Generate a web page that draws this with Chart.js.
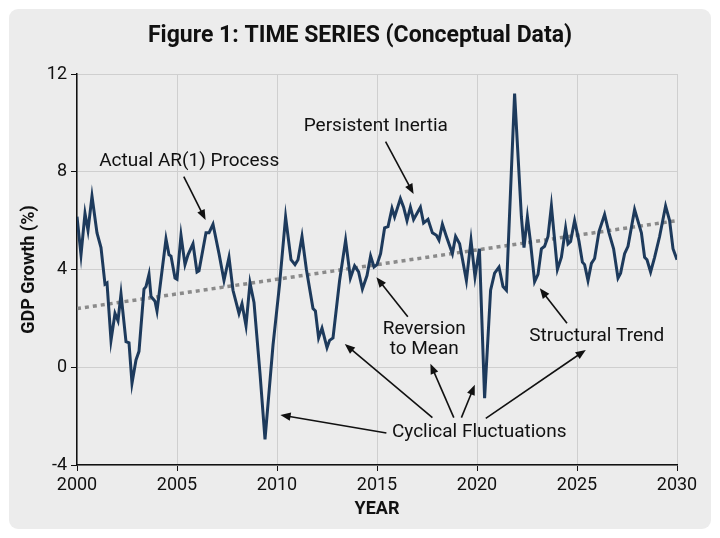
<!DOCTYPE html>
<html lang="en">
<head>
    <meta charset="UTF-8">
    <title>Figure 1: Time Series</title>
    <script src="https://cdn.jsdelivr.net/npm/chart.js"></script>
    <style>
        html, body { margin: 0; padding: 0; background: #fff; }
        #wrap { width: 720px; height: 538px; position: relative; }
    </style>
</head>
<body>

    <div id="wrap"><canvas id="gdpChart"></canvas></div>

    <script>
        // values
        const years = [
            2000.0, 2000.2, 2000.4, 2000.55, 2000.75, 2001.0, 2001.2, 2001.4, 2001.5, 2001.7,
            2001.9, 2002.05, 2002.2, 2002.45, 2002.6, 2002.75, 2002.95, 2003.1, 2003.35, 2003.45,
            2003.6, 2003.7, 2003.9, 2004.0, 2004.45, 2004.6, 2004.7, 2004.9, 2005.0, 2005.2,
            2005.4, 2005.55, 2005.8, 2006.0, 2006.1, 2006.45, 2006.6, 2006.8, 2007.1, 2007.35,
            2007.6, 2007.8, 2008.1, 2008.25, 2008.45, 2008.65, 2008.85, 2009.15, 2009.4, 2009.8,
            2010.13, 2010.43, 2010.7, 2010.9, 2011.05, 2011.25, 2011.47, 2011.8, 2011.92, 2012.08,
            2012.25, 2012.5, 2012.63, 2012.8, 2013.13, 2013.43, 2013.67, 2013.88, 2014.08, 2014.27,
            2014.5, 2014.68, 2014.85, 2015.0, 2015.18, 2015.38, 2015.55, 2015.75, 2015.88, 2016.17,
            2016.33, 2016.5, 2016.67, 2016.83, 2017.17, 2017.33, 2017.55, 2017.77, 2017.97, 2018.1,
            2018.27, 2018.47, 2018.77, 2018.93, 2019.13, 2019.47, 2019.7, 2019.9, 2020.12, 2020.38,
            2020.68, 2020.88, 2021.1, 2021.3, 2021.47, 2021.88, 2022.22, 2022.35, 2022.52, 2022.67,
            2022.88, 2023.05, 2023.22, 2023.38, 2023.55, 2023.72, 2024.02, 2024.22, 2024.43, 2024.55,
            2024.68, 2024.88, 2025.1, 2025.27, 2025.38, 2025.55, 2025.72, 2025.88, 2026.1, 2026.38,
            2026.6, 2026.83, 2027.05, 2027.18, 2027.38, 2027.55, 2027.88, 2028.22, 2028.38, 2028.5,
            2028.68, 2028.88, 2029.13, 2029.43, 2029.63, 2029.8, 2030.0
        ];
        const gdpGrowth = [
            6.16, 4.6, 6.3, 5.6, 7.0, 5.5, 4.9, 3.4, 3.45, 1.1,
            2.2, 1.9, 3.0, 1.05, 1.0, -0.65, 0.3, 0.65, 3.2, 3.3,
            3.8, 2.9, 2.7, 2.3, 5.25, 4.6, 4.55, 3.65, 3.6, 5.4,
            4.2, 4.6, 5.05, 3.9, 3.95, 5.5, 5.5, 5.85, 4.65, 3.55,
            4.5, 3.15, 2.2, 2.6, 1.7, 3.45, 2.65, -0.25, -2.95, 0.9,
            3.4, 6.15, 4.4, 4.2, 4.4, 5.35, 4.0, 2.4, 2.3, 1.2,
            1.6, 0.8, 1.1, 1.2, 3.55, 5.2, 3.65, 4.15, 3.9, 3.2,
            3.75, 4.55, 4.1, 4.2, 4.65, 5.7, 5.75, 6.5, 6.15, 6.9,
            6.55, 6.0, 6.55, 6.05, 6.55, 5.9, 6.05, 5.5, 5.4, 5.2,
            5.85, 5.35, 4.65, 5.35, 5.05, 3.55, 5.2, 3.7, 4.85, -1.27,
            3.15, 3.85, 4.1, 3.3, 3.15, 11.2, 6.15, 4.9, 6.15, 5.15,
            3.5, 3.8, 4.85, 4.95, 5.35, 6.6, 4.0, 4.5, 5.7, 5.05,
            5.15, 6.0, 5.15, 4.3, 4.2, 3.55, 4.25, 4.45, 5.55, 6.25,
            5.5, 4.85, 3.65, 3.85, 4.65, 4.95, 6.45, 5.5, 4.5, 4.4,
            3.9, 4.5, 5.35, 6.6, 6.0, 4.85, 4.4
        ];
        const trendYears = [2000, 2030];
        const trendValues = [2.4, 6.0];

        const xTicks = [2000, 2005, 2010, 2015, 2020, 2025, 2030];
        const yTicks = [-4, 0, 4, 8, 12];

        const chartTitle = 'Figure 1: TIME SERIES (Conceptual Data)';

        // callouts, in data units: text lines at (x, y), arrows from -> to
        const callouts = [
            { lines: ['Actual AR(1) Process'], x: 2005.61, y: 8.42,
              arrows: [[2005.34, 7.80, 2006.43, 6.03]] },
            { lines: ['Persistent Inertia'], x: 2014.94, y: 9.85,
              arrows: [[2015.43, 9.23, 2016.83, 7.09]] },
            { lines: ['Reversion', 'to Mean'], x: 2017.36, y: 1.57,
              arrows: [[2016.54, 2.07, 2014.97, 3.68]] },
            { lines: ['Cyclical Fluctuations'], x: 2020.11, y: -2.65,
              arrows: [
                  [2015.47, -2.69, 2010.17, -1.95],
                  [2017.77, -2.06, 2013.39, 0.95],
                  [2018.84, -2.06, 2017.67, 0.14],
                  [2019.22, -2.06, 2019.89, -0.72],
                  [2020.44, -2.09, 2025.44, 0.71]
              ] },
            { lines: ['Structural Trend'], x: 2025.99, y: 1.28,
              arrows: [[2024.5, 1.80, 2023.14, 3.23]] }
        ];

        const cardBg = {
            id: 'cardBg',
            beforeDraw(chart) {
                const c = chart.ctx;
                c.save();
                c.fillStyle = '#ffffff';
                c.fillRect(0, 0, chart.width, chart.height);
                c.fillStyle = '#ececec';
                c.beginPath();
                c.roundRect(9, 9, chart.width - 18, chart.height - 18, 9);
                c.fill();
                // title, centred on the whole card
                c.fillStyle = '#111';
                c.font = 'bold 23px Roboto';
                c.textAlign = 'center';
                c.textBaseline = 'middle';
                c.fillText(chartTitle, chart.width / 2, 36);
                c.restore();
            }
        };

        function arrow(c, x1, y1, x2, y2) {
            const ang = Math.atan2(y2 - y1, x2 - x1);
            const head = 11;
            c.beginPath();
            c.moveTo(x1, y1);
            c.lineTo(x2 - Math.cos(ang) * head * 0.7, y2 - Math.sin(ang) * head * 0.7);
            c.stroke();
            c.beginPath();
            c.moveTo(x2, y2);
            c.lineTo(x2 - head * Math.cos(ang - 0.38), y2 - head * Math.sin(ang - 0.38));
            c.lineTo(x2 - head * Math.cos(ang + 0.38), y2 - head * Math.sin(ang + 0.38));
            c.closePath();
            c.fill();
        }

        const calloutPlugin = {
            id: 'callouts',
            afterDatasetsDraw(chart) {
                const c = chart.ctx;
                const xs = chart.scales.x, ys = chart.scales.y;
                c.save();
                c.font = '19px Roboto';
                c.fillStyle = '#111';
                c.strokeStyle = '#111';
                c.lineWidth = 1.6;
                c.textAlign = 'center';
                c.textBaseline = 'middle';
                callouts.forEach(co => {
                    const px = xs.getPixelForValue(co.x);
                    const py = ys.getPixelForValue(co.y);
                    co.lines.forEach((t, i) => c.fillText(t, px, py + i * 20));
                    co.arrows.forEach(a => arrow(c,
                        xs.getPixelForValue(a[0]), ys.getPixelForValue(a[1]),
                        xs.getPixelForValue(a[2]), ys.getPixelForValue(a[3])));
                });
                c.restore();
            }
        };

        const ctx = document.getElementById('gdpChart').getContext('2d');
        new Chart(ctx, {
            type: 'line',
            data: {
                datasets: [
                    {
                        label: 'GDP Growth',
                        data: years.map((yr, i) => ({ x: yr, y: gdpGrowth[i] })),
                        borderColor: '#1d3a5c',
                        borderWidth: 3,
                        pointRadius: 0,
                        tension: 0,
                        fill: false,
                        order: 1
                    },
                    {
                        label: 'Trend',
                        data: trendYears.map((yr, i) => ({ x: yr, y: trendValues[i] })),
                        borderColor: '#8a8a8a',
                        borderWidth: 3.5,
                        borderDash: [4, 4],
                        pointRadius: 0,
                        fill: false,
                        order: 2
                    }
                ]
            },
            options: {
                responsive: true,
                maintainAspectRatio: false,
                animation: false,
                layout: { padding: { left: 0, right: 43, top: 74, bottom: 0 } },
                plugins: {
                    legend: { display: false },
                    tooltip: { enabled: false },
                    title: { display: false }
                },
                scales: {
                    x: {
                        type: 'linear',
                        min: 2000,
                        max: 2030,
                        afterBuildTicks: s => { s.ticks = xTicks.map(v => ({ value: v })); },
                        afterFit: s => { s.height = 73; },
                        ticks: {
                            color: '#111',
                            font: { family: 'Roboto', size: 18 },
                            padding: 4,
                            maxRotation: 0,
                            callback: v => String(v)
                        },
                        grid: { color: '#cfcfcf', lineWidth: 1, tickLength: 6, tickColor: '#111' },
                        border: { color: '#111', width: 1.5 },
                        title: {
                            display: true,
                            text: 'YEAR',
                            color: '#111',
                            font: { family: 'Roboto', size: 18, weight: 'bold' },
                            padding: { top: 0, bottom: 18 }
                        }
                    },
                    y: {
                        min: -4,
                        max: 12,
                        afterBuildTicks: s => { s.ticks = yTicks.map(v => ({ value: v })); },
                        afterFit: s => { s.width = 77; },
                        ticks: {
                            color: '#111',
                            font: { family: 'Roboto', size: 18 },
                            padding: 4
                        },
                        grid: { color: '#cfcfcf', lineWidth: 1, tickLength: 6, tickColor: '#111' },
                        border: { color: '#111', width: 1.5 },
                        title: {
                            display: true,
                            text: 'GDP Growth (%)',
                            color: '#111',
                            font: { family: 'Roboto', size: 18, weight: 'bold' },
                            padding: { top: 19, bottom: 0 }
                        }
                    }
                }
            },
            plugins: [cardBg, calloutPlugin]
        });
    </script>

</body>
</html>
